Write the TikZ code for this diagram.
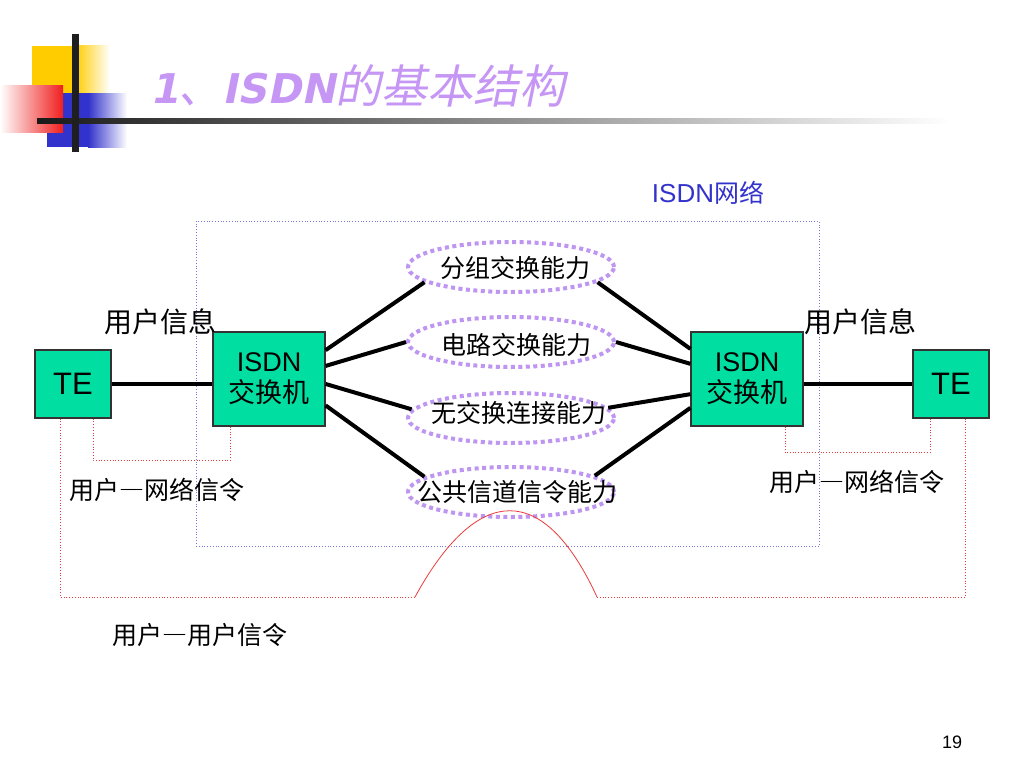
\documentclass[tikz,border=0pt]{standalone}
\usepackage{fontspec}
\setmainfont{Liberation Sans}
\newfontfamily\cjk{Noto Sans CJK SC}
\newfontfamily\cjkfw[RawFeature=+fwid]{Noto Sans CJK SC}
\newfontfamily\cjksl[FakeSlant=0.2]{Noto Sans CJK SC}
\newfontfamily\titlelat[FakeSlant=0.2]{DejaVu Sans Bold}
\usetikzlibrary{shapes.geometric}
\definecolor{boxgreen}{RGB}{0,222,162}
\definecolor{lav}{RGB}{190,150,242}
\definecolor{titlelav}{RGB}{198,150,245}
\definecolor{netblue}{RGB}{120,120,225}
\definecolor{textblue}{RGB}{51,51,204}
\definecolor{sigred}{RGB}{235,60,60}
\definecolor{logoyellow}{RGB}{255,204,0}
\definecolor{logoblue}{RGB}{50,50,205}
\definecolor{logored}{RGB}{240,30,30}
\newcommand{\fsz}[1]{\fontsize{#1}{#1}\selectfont}
\newcommand{\dash}{{\cjkfw —}}
\tikzset{
  tebox/.style={draw=black!80, line width=1.2pt, fill=boxgreen, minimum width=76pt, minimum height=68pt, inner sep=0pt, font=\fsz{31}},
  swbox/.style={draw=black!80, line width=1.2pt, fill=boxgreen, minimum width=112pt, minimum height=94pt, inner sep=0pt, align=center, font=\fontsize{27}{31}\selectfont},
  capell/.style={ellipse, draw=lav, line width=4pt, dash pattern=on 4pt off 3.5pt, minimum width=206pt, minimum height=50pt, inner sep=0pt},
  captext/.style={font=\cjk\fsz{25}, inner sep=0pt},
  lbl/.style={font=\cjk\fsz{25}, inner sep=0pt},
  thick line/.style={line width=4pt, black},
  sig/.style={sigred, line width=0.8pt, dotted},
}
\begin{document}
\begin{tikzpicture}[x=1pt,y=-1pt]
\useasboundingbox[fill=white] (0,0) rectangle (1024,768);
% logo
\fill[logoyellow] (32,46) rectangle (75,93);
\shade[left color=logoyellow, right color=white] (75,46) rectangle (110,93);
\fill[logoblue] (47,93) rectangle (88,147);
\shade[left color=logoblue, right color=white] (88,93) rectangle (127,147);
\shade[left color=white, right color=logored] (0,85) rectangle (63,132);
\shade[left color=black!90, right color=white] (37,118) rectangle (950,123);
\fill[black!88] (72,34) rectangle (79,152);
% title
\node[anchor=base west, inner sep=0pt, text=titlelav] (title) at (150,103)
  {{\titlelat\fsz{41}1}{\cjksl\fsz{44}、}{\titlelat\fsz{41}ISDN}{\cjksl\fsz{46}的基本结构}};
% network frame
\node[draw=netblue, line width=0.8pt, dotted, minimum width=623pt, minimum height=325pt, inner sep=0pt] (net) at (507.5,383.5) {};
\node[inner sep=0pt, text=textblue] (netlbl) at (708,193) {{\fsz{26}ISDN}{\cjk\fsz{25}网络}};
% boxes
\node[tebox] (teL) at (73,384) {TE};
\node[swbox] (swL) at (269,379) {ISDN\\{\cjk 交换机}};
\node[swbox] (swR) at (747,379) {ISDN\\{\cjk 交换机}};
\node[tebox] (teR) at (951,384) {TE};
% capability ellipses
\node[capell] (e1) at (511,267) {};
\node[capell] (e2) at (511,342) {};
\node[capell] (e3) at (511,418) {};
\node[capell] (e4) at (511,492) {};
\node[captext] (t1) at (515,268) {分组交换能力};
\node[captext] (t2) at (516,345) {电路交换能力};
\node[captext] (t3) at (519,413) {无交换连接能力};
\node[captext] (t4) at (517,492) {公共信道信令能力};
% connectors
\draw[thick line] (teL.east) -- (swL.west |- teL.east);
\draw[thick line] (swR.east |- teR.west) -- (teR.west);
\draw[thick line] (swL.27.4) -- (e1.190);
\draw[thick line] (swL.13) -- (e2.180);
\draw[thick line] (swL.355) -- (e3.175);
\draw[thick line] (swL.335) -- (e4.170);
\draw[thick line] (swR.152.6) -- (e1.350);
\draw[thick line] (swR.165) -- (e2.0);
\draw[thick line] (swR.195) -- (e3.6);
\draw[thick line] (swR.207) -- (e4.11);
% signalling paths
\draw[sig] ([xshift=20pt]teL.south) -- ++(0,42) -| ([xshift=-39pt]swL.south);
\draw[sig] ([xshift=38pt]swR.south) -- ++(0,26) -| ([xshift=-21pt]teR.south);
\coordinate (bl) at (415,597);
\coordinate (br) at (597,597);
\draw[sig] ([xshift=-13pt]teL.south) |- (bl);
\draw[sigred, line width=0.8pt] (bl) .. controls (478,482) and (544,482) .. (br);
\draw[sig] (br) -| ([xshift=14pt]teR.south);
% labels
\node[lbl, font=\cjk\fsz{28}] (uiL) at (160,322) {用户信息};
\node[lbl, font=\cjk\fsz{28}] (uiR) at (860,322) {用户信息};
\node[lbl] (unL) at (157,490) {用户\dash 网络信令};
\node[lbl] (unR) at (857,482) {用户\dash 网络信令};
\node[lbl] (uu) at (200,635) {用户\dash 用户信令};
\node[inner sep=0pt, font=\fsz{18}] (page) at (952,742) {19};
\end{tikzpicture}
\end{document}
